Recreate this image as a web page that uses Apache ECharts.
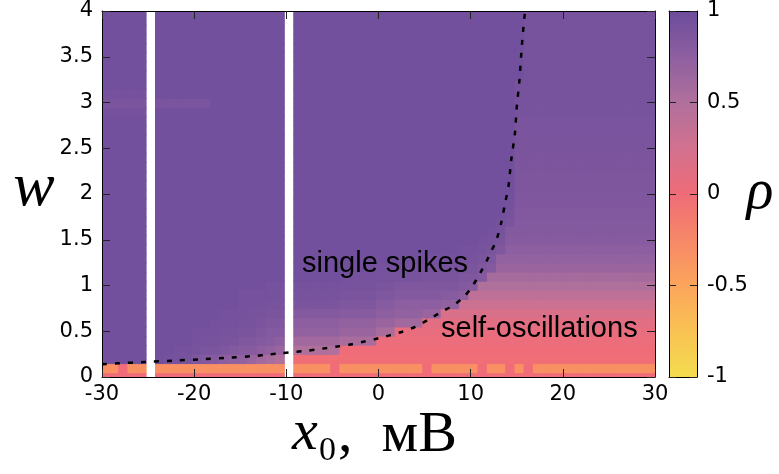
<!DOCTYPE html>
<html>
<head>
<meta charset="utf-8">
<script src="https://cdn.jsdelivr.net/npm/echarts@6/dist/echarts.min.js"></script>
<style>
  html, body { margin: 0; padding: 0; background: #fff; }
  #chart { width: 779px; height: 474px; }
</style>
</head>
<body>
<div id="chart"></div>
<script>
// grid of the map: x0 columns (mV) and w rows
var xCols = [];
for (var k = -30; k <= 30; k++) xCols.push(k);
var wRows = [];
for (var r = 0; r <= 40; r++) wRows.push(+(r * 0.1).toFixed(1));

// columns with no data (white stripes)
var gapCols = [-25, -10];

// colour scale of rho, from -1 to 1
var rhoColors = ['#f4dc4f', '#f9c253', '#fba55b', '#f78868', '#ef6c78',
                 '#d2718f', '#b0709c', '#8e5fa0', '#6c4c9c'];
var rhoTicks = [-1, -0.5, 0, 0.5, 1];

// self-oscillation zone: highest row index per column (x0 = -30..30)
var selfOscTop = [
  1, 1, 1, 1, 1, 1, 1, 1, 1, 1,      // -30..-21
  1, 1, 1, 1, 1, 1, 1, 1, 1, 1,      // -20..-11
  1, 2, 2, 2, 2, 2, 3, 3, 3, 3,      // -10..-1
  4, 4, 5, 5, 5, 6, 6, 7, 7, 8,      // 0..9
  9, 10, 11, 13, 16, 32, 40, 40, 40, 40, // 10..19
  40, 40, 40, 40, 40, 40, 40, 40, 40, 40, // 20..29
  40                                  // 30
];
// rho inside the self-oscillation zone, per row (w = 0 .. 4)
var selfOscRho = [
  0.0, -0.32, -0.03, 0.0, 0.03, 0.06, 0.12, 0.2, 0.3, 0.4,
  0.5, 0.58, 0.66, 0.72, 0.76, 0.8, 0.82, 0.83, 0.84, 0.85,
  0.86, 0.87, 0.87, 0.88, 0.88, 0.89, 0.89, 0.9, 0.9, 0.91,
  0.91, 0.92, 0.92, 0.92, 0.92, 0.92, 0.92, 0.92, 0.92, 0.92, 0.92
];
// columns where the w = 0.1 row is pink instead of orange
var pinkCols = [-28, -5, 5, 11, 14, 16];

// single-spike zone, rho coded by character
var spikeBase = 0.95;
var spikeCode = { '9': 0.95, '8': 0.93, '7': 0.91, '6': 0.89, '5': 0.86, '4': 0.83,
                  '3': 0.8, '2': 0.76, '1': 0.72, '0': 0.66, 'y': 0.6, 'x': 0.55, 'w': 0.5 };
// rows that differ from spikeBase; one char per column, '-' = self-osc, '_' = gap
var spikeRows = {
  2:  '99999 _ 9887 54321 10y xw _ ----- ---- -- --- -- -- - - - - - - - ---------------',
  3:  '99999 _ 9988 76654 332 10 _ wwwww ---- -- --- -- -- - - - - - - - ---------------',
  4:  '99999 _ 9999 87766 554 32 _ yyyyy xxxx -- --- -- -- - - - - - - - ---------------',
  5:  '99999 _ 9999 88877 665 44 _ 11111 0000 xx --- -- -- - - - - - - - ---------------',
  6:  '99999 _ 9999 99888 776 55 _ 22222 1111 00 yyy -- -- - - - - - - - ---------------',
  7:  '99999 _ 9999 99988 877 66 _ 44444 3333 22 111 00 -- - - - - - - - ---------------',
  8:  '99999 _ 9999 99999 888 77 _ 66666 5555 33 222 22 11 - - - - - - - ---------------',
  9:  '99999 _ 9999 99999 888 88 _ 77777 6666 55 444 44 33 2 - - - - - - ---------------',
  10: '99999 _ 9999 99999 999 88 _ 88888 7777 66 555 55 55 4 3 - - - - - ---------------',
  11: '99999 _ 9999 99999 999 99 _ 99999 8888 77 777 66 66 5 5 4 - - - - ---------------',
  12: '99999 _ 9999 99999 999 99 _ 99999 9999 88 888 77 77 7 6 5 4 - - - ---------------',
  13: '99999 _ 9999 99999 999 99 _ 99999 9999 99 999 88 88 8 7 6 5 - - - ---------------',
  14: '99999 _ 9999 99999 999 99 _ 99999 9999 99 999 99 99 8 8 7 6 5 - - ---------------',
  15: '99999 _ 9999 99999 999 99 _ 99999 9999 99 999 99 99 9 9 8 7 6 - - ---------------',
  16: '99999 _ 9999 99999 999 99 _ 99999 9999 99 999 99 99 9 9 9 8 7 - - ---------------',
  17: '99999 _ 9999 99999 999 99 _ 99999 9999 99 999 99 99 9 9 9 9 8 6 - ---------------',
  18: '99999 _ 9999 99999 999 99 _ 99999 9999 99 999 99 99 9 9 9 9 9 7 - ---------------',
  19: '99999 _ 9999 99999 999 99 _ 99999 9999 99 999 99 99 9 9 9 9 9 8 - ---------------',
  29: '88888 _ 9999 99999 999 99 _ 99999 9999 99 999 99 99 9 9 9 9 9 9 - ---------------',
  30: '66666 _ 6666 66999 999 99 _ 99999 9999 99 999 99 99 9 9 9 9 9 9 - ---------------',
  31: '88888 _ 9999 99999 999 99 _ 99999 9999 99 999 99 99 9 9 9 9 9 9 - ---------------'
};

// dashed boundary curve
var curveX = [-30, -28.2, -25.3, -22.3, -19.4, -16.4, -13.4, -12.0, -10.4, -8.9,
              -7.6, -6.1, -4.66, -3.2, -1.77, -0.33, 1.1, 2.57, 3.93, 5.3,
              6.8, 7.9, 9.0, 9.9, 10.6, 11.1, 11.7, 12.2, 12.75, 13.3,
              13.8, 14.1, 14.4, 14.8, 15.0, 15.3, 15.5, 15.75, 15.9];
var curveW = [0.14, 0.15, 0.164, 0.178, 0.193, 0.21, 0.23, 0.244, 0.262, 0.277,
              0.288, 0.31, 0.33, 0.353, 0.383, 0.415, 0.452, 0.495, 0.546, 0.62,
              0.71, 0.77, 0.85, 0.95, 1.06, 1.15, 1.26, 1.37, 1.48, 1.68,
              1.93, 2.08, 2.37, 2.66, 2.95, 3.25, 3.55, 3.85, 4.0];

// build the map cells [x centre, w, rho]
var cells = [];
xCols.forEach(function (x, i) {
  if (gapCols.indexOf(x) >= 0) return;
  wRows.forEach(function (w, r) {
    var rho;
    if (r <= selfOscTop[i]) {
      rho = selfOscRho[r];
      if (r === 1 && pinkCols.indexOf(x) >= 0) rho = selfOscRho[0];
    } else if (spikeRows[r]) {
      rho = spikeCode[spikeRows[r].replace(/ /g, '').charAt(i)];
      if (rho === undefined) rho = spikeBase;
    } else {
      rho = spikeBase;
    }
    cells.push([x + 0.25, w, rho]);
  });
});

var chart = echarts.init(document.getElementById('chart'), null, { renderer: 'canvas' });

function renderCell(params, api) {
  var x = api.value(0), w = api.value(1);
  var p0 = api.coord([x - 0.5, w + 0.05]);
  var p1 = api.coord([x + 0.5, w - 0.05]);
  var cs = params.coordSys;
  var shape = echarts.graphic.clipRectByRect(
    { x: p0[0], y: p0[1], width: p1[0] - p0[0] + 0.8, height: p1[1] - p0[1] + 0.8 },
    { x: cs.x, y: cs.y, width: cs.width, height: cs.height });
  return shape && { type: 'rect', shape: shape, style: { fill: api.visual('color') } };
}

function renderBar(params, api) {
  var p0 = api.coord([0, 1]);
  var p1 = api.coord([1, -1]);
  var stops = rhoColors.slice().reverse().map(function (c, i, a) {
    return { offset: i / (a.length - 1), color: c };
  });
  return {
    type: 'rect',
    shape: { x: p0[0], y: p0[1], width: p1[0] - p0[0], height: p1[1] - p0[1] },
    style: { fill: new echarts.graphic.LinearGradient(0, 0, 0, 1, stops) }
  };
}

var tickFont = { fontFamily: 'DejaVu Sans', fontSize: 21, color: '#000' };
var frameLine = { show: true, onZero: false, lineStyle: { color: '#000', width: 1 } };
var inTick = { show: true, inside: true, length: 8, lineStyle: { color: '#222' } };

function xAx(grid, pos, labels, min, max, interval, ticks) {
  return {
    type: 'value', gridIndex: grid, position: pos, min: min, max: max, interval: interval, z: 5,
    axisLine: frameLine, axisTick: ticks ? inTick : { show: false },
    axisLabel: labels ? Object.assign({ margin: 7 }, tickFont) : { show: false },
    splitLine: { show: false }
  };
}

chart.setOption({
  animation: false,
  backgroundColor: '#fff',
  grid: [
    { left: 102, top: 11, width: 553, height: 366 },
    { left: 669, top: 11, width: 28, height: 366 }
  ],
  xAxis: [
    xAx(0, 'bottom', true, -30, 30, 10, true),
    xAx(0, 'top', false, -30, 30, 10, true),
    xAx(1, 'bottom', false, 0, 1, 1, false),
    xAx(1, 'top', false, 0, 1, 1, false)
  ],
  yAxis: [
    Object.assign(xAx(0, 'left', true, 0, 4, 0.5, true), { axisLabel: Object.assign({ margin: 9 }, tickFont) }),
    xAx(0, 'right', false, 0, 4, 0.5, true),
    Object.assign(xAx(1, 'left', false, -1, 1, 0.5, true), { axisTick: Object.assign({}, inTick, { length: 7 }) }),
    Object.assign(xAx(1, 'right', true, -1, 1, 0.5, true), {
      axisTick: Object.assign({}, inTick, { length: 7 }),
      axisLabel: Object.assign({ margin: 10 }, tickFont)
    })
  ],
  visualMap: {
    type: 'continuous', show: false, min: rhoTicks[0], max: rhoTicks[rhoTicks.length - 1],
    dimension: 2, seriesIndex: 0, inRange: { color: rhoColors }
  },
  series: [
    {
      type: 'custom', name: 'rho', xAxisIndex: 0, yAxisIndex: 0,
      renderItem: renderCell, data: cells, silent: true, progressive: 0
    },
    {
      type: 'line', xAxisIndex: 0, yAxisIndex: 0, z: 3, silent: true,
      data: curveX.map(function (x, i) { return [x, curveW[i]]; }),
      showSymbol: false, smooth: 0.2,
      lineStyle: { color: '#000', width: 2.5, type: [5, 8] }
    },
    {
      type: 'custom', xAxisIndex: 2, yAxisIndex: 2, silent: true,
      renderItem: renderBar, data: [[0, 0]]
    }
  ],
  graphic: [
    { type: 'text', x: 302, y: 264, z: 10,
      style: { text: 'single spikes', font: '29px "Liberation Sans", Arial', fill: '#000',
               align: 'left', verticalAlign: 'middle' } },
    { type: 'text', x: 441, y: 329, z: 10,
      style: { text: 'self-oscillations', font: '29px "Liberation Sans", Arial', fill: '#000',
               align: 'left', verticalAlign: 'middle' } },
    { type: 'text', x: 34, y: 189, z: 10,
      style: { text: 'w', font: 'italic 62px "Liberation Serif"', fill: '#000',
               align: 'center', verticalAlign: 'middle' } },
    { type: 'text', x: 760, y: 193, z: 10,
      style: { text: 'ρ', font: 'italic 56px "Liberation Serif"', fill: '#000',
               align: 'center', verticalAlign: 'middle' } },
    { type: 'text', x: 292, y: 434, z: 10,
      style: { text: 'x', font: 'italic 58px "Liberation Serif"', fill: '#000',
               align: 'left', verticalAlign: 'middle' } },
    { type: 'text', x: 319, y: 451, z: 10,
      style: { text: '0', font: '34px "Liberation Serif"', fill: '#000',
               align: 'left', verticalAlign: 'middle' } },
    { type: 'text', x: 338, y: 436, z: 10,
      style: { text: ',  мВ', font: '58px "Liberation Serif"', fill: '#000',
               align: 'left', verticalAlign: 'middle' } }
  ]
});
</script>
</body>
</html>
